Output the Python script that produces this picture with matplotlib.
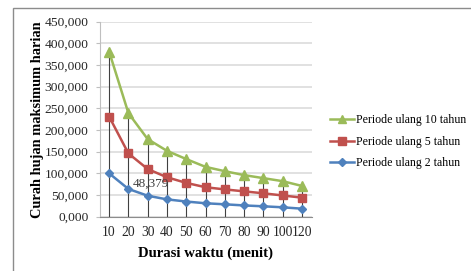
import matplotlib
matplotlib.use("Agg")
import matplotlib.pyplot as plt
from matplotlib.patches import Rectangle
from matplotlib.ticker import FuncFormatter

categories = ["10", "20", "30", "40", "50", "60", "70", "80", "90", "100", "120"]
p10 = [381000, 239000, 179000, 152000, 133000, 115000, 105000, 96000, 89000, 82000, 71000]
p5 = [231000, 146000, 110000, 91000, 78000, 68000, 63000, 58500, 54000, 49000, 44000]
p2 = [100000, 64000, 48379, 40000, 35000, 31000, 28600, 26000, 24000, 21700, 18500]
labels = ["Periode ulang 10 tahun", "Periode ulang 5 tahun", "Periode ulang 2 tahun"]

plt.rcParams['font.family'] = ['Liberation Serif', 'DejaVu Serif']

W, H = 471, 271
fig = plt.figure(figsize=(W / 100, H / 100), dpi=100)
fig.patch.set_facecolor("white")

# outer chart border
fig.add_artist(Rectangle((12.5 / W, -0.1), 1.2, 1 - 8.3 / H + 0.1, transform=fig.transFigure,
                         fill=False, edgecolor="#8c8c8c", lw=1.0))

ax = fig.add_axes([99.5 / W, 1 - 216.7 / H, 212 / W, 195 / H])
x = list(range(len(categories)))

ax.set_ylim(0, 450000)
ax.set_xlim(-0.5, len(categories) - 0.5)
ax.set_yticks(range(0, 450001, 50000))
ax.yaxis.set_major_formatter(FuncFormatter(lambda v, p: f"{int(v):,}" if v else "0,000"))
ax.yaxis.grid(True, color="#d9d9d9", lw=1.1)
ax.set_axisbelow(True)

tops = [max(a, b, c) for a, b, c in zip(p10, p5, p2)]
ax.vlines(x, 0, tops, color="#404040", lw=0.8, zorder=1.5)

ax.plot(x, p10, color="#9BBB59", marker="^", ms=6.5, lw=1.8, label=labels[0], zorder=3)
ax.plot(x, p5, color="#C0504D", marker="s", ms=6, lw=1.8, label=labels[1], zorder=3)
ax.plot(x, p2, color="#4F81BD", marker="D", ms=4.5, lw=1.8, label=labels[2], zorder=3)

ax.annotate(f"{p2[2]:,}", (x[2], p2[2]), xytext=(3, 12), textcoords="offset pixels",
            ha="center", va="center", fontsize=9.5, color="#404040", zorder=4)

ax.set_xticks(x)
ax.set_xticklabels(categories)
ax.tick_params(axis="x", length=0, pad=7, labelsize=9.8, colors="#262626")
ax.tick_params(axis="y", length=3, color="#bfbfbf", pad=5, labelsize=9.7, colors="#262626")
for s in ["top", "right"]:
    ax.spines[s].set_visible(False)
ax.spines["left"].set_color("#bfbfbf")
ax.spines["bottom"].set_color("#8c8c8c")

ax.set_xlabel("Durasi waktu (menit)", fontsize=10.6, fontweight="bold", labelpad=5)
ax.set_ylabel("Curah hujan maksimum harian", fontsize=10.4, fontweight="bold", labelpad=0)

fig.legend(loc="center left", bbox_to_anchor=(330 / W, 1 - 141.7 / H), frameon=False,
           fontsize=8.6, borderpad=0, borderaxespad=0, handlelength=2.0, handletextpad=0.15,
           labelspacing=0.8, markerscale=0.9)

fig.savefig("out.png", dpi=100, facecolor="white")
